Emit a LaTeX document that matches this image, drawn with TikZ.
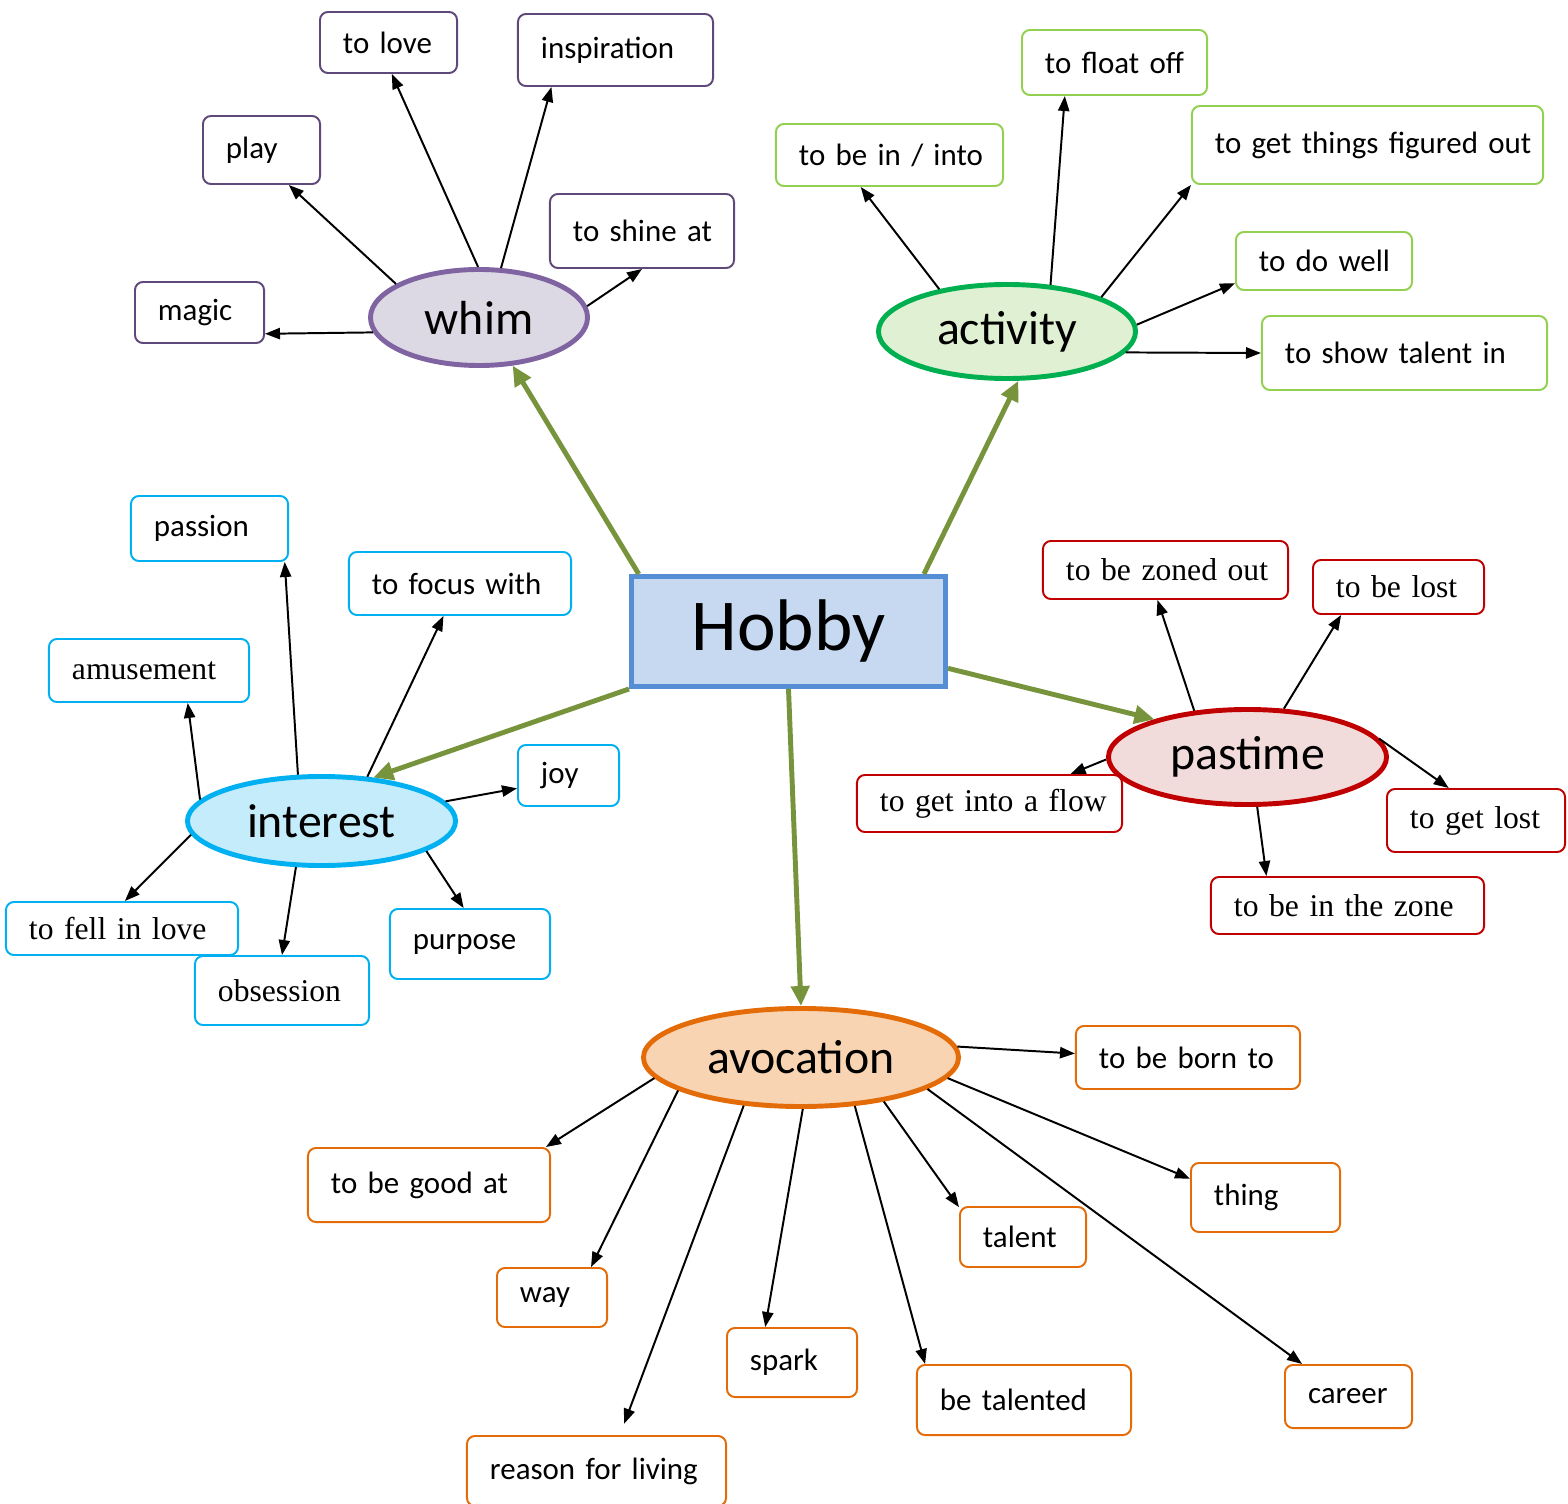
\documentclass[tikz,border=0pt]{standalone}
\usepackage{fontspec}
\setmainfont{Carlito}
\newfontfamily\timesfont{Liberation Serif}
\usetikzlibrary{arrows.meta,shapes.geometric}

\definecolor{hobbyfill}{HTML}{C6D9F1}
\definecolor{hobbyline}{HTML}{558ED5}
\definecolor{twig}{HTML}{77933C}
\definecolor{whimfill}{HTML}{DDD9E4}
\definecolor{whimline}{HTML}{8064A2}
\definecolor{whimedge}{HTML}{5F497A}
\definecolor{actfill}{HTML}{E0F0D2}
\definecolor{actline}{HTML}{00B050}
\definecolor{actedge}{HTML}{92D050}
\definecolor{intfill}{HTML}{C5ECFA}
\definecolor{intline}{HTML}{00B0F0}
\definecolor{pasfill}{HTML}{F2DCDB}
\definecolor{pasline}{HTML}{C00000}
\definecolor{avofill}{HTML}{F9D4B2}
\definecolor{avoline}{HTML}{E36C09}

\begin{document}
\begin{tikzpicture}[
  x=0.025cm, y=-0.025cm,
  font=\fontsize{22}{26}\selectfont,
  leaf/.style={draw, rounded corners=0.2cm, line width=1.4pt, fill=white, inner xsep=0.575cm, inner ysep=0pt, align=left,
    execute at begin node=\hbox\bgroup, execute at end node=\egroup},
  wleaf/.style={leaf, draw=whimedge},
  aleaf/.style={leaf, draw=actedge},
  ileaf/.style={leaf, draw=intline},
  pleaf/.style={leaf, draw=pasline},
  vleaf/.style={leaf, draw=avoline},
  tms/.style={font=\timesfont\fontsize{22.5}{26}\selectfont},
  hub/.style={ellipse, line width=3.5pt, inner sep=0pt, font=\fontsize{34}{38}\selectfont},
  arr/.style={-{Triangle[length=0.375cm,width=0.28cm]}, line width=1.4pt},
  twigarr/.style={-{Triangle[length=0.5cm,width=0.45cm]}, line width=3.5pt, draw=twig},
]
\useasboundingbox (0,0) rectangle (1568,1504);

% ---------------- centre ----------------
\node[draw=hobbyline, fill=hobbyfill, line width=3.5pt, minimum width=7.85cm, minimum height=2.75cm,
  inner sep=0pt, font=\fontsize{52}{56}\selectfont] (hobby) at (788.5,631.5) {Hobby};

\node[hub, draw=whimline, fill=whimfill, minimum width=5.425cm, minimum height=2.4cm] (whim) at (479,317.5) {whim};
\node[hub, draw=actline, fill=actfill, minimum width=6.425cm, minimum height=2.35cm] (activity) at (1007,331.5) {activity};
\node[hub, draw=intline, fill=intfill, minimum width=6.7cm, minimum height=2.225cm] (interest) at (321.5,821) {interest};
\node[hub, draw=pasline, fill=pasfill, minimum width=6.95cm, minimum height=2.375cm] (pastime) at (1247.5,757) {pastime};
\node[hub, draw=avoline, fill=avofill, minimum width=7.875cm, minimum height=2.45cm] (avocation) at (801,1057.5) {avocation};

\draw[twigarr] (hobby.159) -- (whim.-55);
\draw[twigarr] (hobby.23) -- (activity.-77);
\draw[twigarr] (hobby.south west) -- (interest.40);
\draw[twigarr] (hobby.-13) -- (pastime.158);
\draw[twigarr] (hobby.south) -- (avocation.north);

% ---------------- whim ----------------
\node[wleaf, text width=2.275cm, minimum height=1.525cm] (tolove) at (388.5,42.5) {to love};
\node[wleaf, text width=3.725cm, minimum height=1.8cm] (inspiration) at (615.5,50) {inspiration};
\node[wleaf, text width=1.775cm, minimum height=1.7cm] (play) at (261.5,150) {play};
\node[wleaf, text width=3.45cm, minimum height=1.85cm] (toshine) at (642,231) {to shine at};
\node[wleaf, text width=2.075cm, minimum height=1.525cm] (magic) at (199.5,312.5) {magic};

\draw[arr] (whim.188) -- (magic.-18);
\draw[arr] (whim.158) -- (play.-52);
\draw[arr] (whim.91) -- (tolove.-84);
\draw[arr] (whim.66) -- (inspiration.210);
\draw[arr] (whim.6) -- (toshine.south);

% ---------------- activity ----------------
\node[aleaf, text width=4.525cm, minimum height=1.55cm] (bein) at (889.5,155) {to be in / into};
\node[aleaf, text width=3.475cm, minimum height=1.625cm] (floatoff) at (1114.5,62.5) {to float off};
\node[aleaf, text width=7.625cm, minimum height=1.95cm] (figured) at (1367.5,145) {to get things figured out};
\node[aleaf, text width=3.25cm, minimum height=1.45cm] (dowell) at (1324,261) {to do well};
\node[aleaf, text width=5.975cm, minimum height=1.85cm] (showtalent) at (1404.5,353) {to show talent in};

\draw[arr] (activity.148) -- (bein.228);
\draw[arr] (activity.47) -- (floatoff.214);
\draw[arr] (activity.20) -- (figured.south west);
\draw[arr] (activity.3) -- (dowell.194);
\draw[arr] (activity.-10) -- (showtalent.west);

% ---------------- interest ----------------
\node[ileaf, text width=2.775cm, minimum height=1.625cm] (passion) at (209.5,528.5) {passion};
\node[ileaf, text width=4.4cm, minimum height=1.575cm] (focus) at (460,583.5) {to focus with};
\node[ileaf, tms, text width=3.85cm, minimum height=1.575cm] (amusement) at (149,670.5) {amusement};
\node[ileaf, text width=1.375cm, minimum height=1.525cm] (joy) at (568.5,775.5) {joy};
\node[ileaf, text width=2.85cm, minimum height=1.75cm] (purpose) at (470,944) {purpose};
\node[ileaf, tms, text width=3.2cm, minimum height=1.725cm] (obsession) at (282,990.5) {obsession};
\node[ileaf, tms, text width=4.65cm, minimum height=1.325cm] (fellinlove) at (122,928.5) {to fell in love};

\draw[arr] (interest.117) -- (passion.-24);
\draw[arr] (interest.44) -- (focus.243);
\draw[arr] (interest.170) -- (amusement.-40);
\draw[arr] (interest.9) -- (joy.194);
\draw[arr] (interest.-16) -- (purpose.100);
\draw[arr] (interest.241) -- (obsession.north);
\draw[arr] (interest.186) -- (fellinlove.84);

% ---------------- pastime ----------------
\node[pleaf, tms, text width=4.975cm, minimum height=1.45cm] (zonedout) at (1165.5,570) {to be zoned out};
\node[pleaf, tms, text width=3.125cm, minimum height=1.35cm] (belost) at (1398.5,587) {to be lost};
\node[pleaf, tms, text width=5.475cm, minimum height=1.425cm] (intoflow) at (989.5,803.5) {to get into a flow};
\node[pleaf, tms, text width=3.3cm, minimum height=1.575cm] (getlost) at (1476,820.5) {to get lost};
\node[pleaf, tms, text width=5.675cm, minimum height=1.425cm] (inzone) at (1347.5,905.5) {to be in the zone};

\draw[arr] (pastime.139) -- (zonedout.255);
\draw[arr] (pastime.53) -- (belost.206);
\draw[arr] (pastime.181) -- (intoflow.20);
\draw[arr] (pastime.8) -- (getlost.130);
\draw[arr] (pastime.-79) -- (inzone.160);

% ---------------- avocation ----------------
\node[vleaf, text width=4.45cm, minimum height=1.575cm] (bornto) at (1188,1057.5) {to be born to};
\node[vleaf, text width=4.9cm, minimum height=1.85cm] (goodat) at (429,1185) {to be good at};
\node[vleaf, text width=1.6cm, minimum height=1.475cm] (way) at (552,1297.5) {way};
\node[vleaf, text width=5.325cm, minimum height=1.75cm] (reason) at (596.5,1471) {reason for living};
\node[vleaf, text width=2.1cm, minimum height=1.725cm] (spark) at (792,1362.5) {spark};
\node[vleaf, text width=4.2cm, minimum height=1.75cm] (talented) at (1024,1400) {be talented};
\node[vleaf, text width=2.0cm, minimum height=1.5cm] (talent) at (1023,1237) {talent};
\node[vleaf, text width=2.575cm, minimum height=1.725cm] (thing) at (1265.5,1197.5) {thing};
\node[vleaf, text width=2.025cm, minimum height=1.575cm] (career) at (1348.5,1396.5) {career};

\draw[arr] (avocation.4) -- (bornto.178);
\draw[arr] (avocation.188) -- (goodat.18);
\draw[arr] (avocation.195) -- (way.38);
\draw[arr, shorten >=0.3cm] (avocation.220) -- (reason.57);
\draw[arr] (avocation.-88) -- (spark.127);
\draw[arr] (avocation.-42) -- (talented.160);
\draw[arr] (avocation.-28) -- (talent.155);
\draw[arr] (avocation.-8) -- (thing.166);
\draw[arr] (avocation.-14) -- (career.145);
\end{tikzpicture}
\end{document}
